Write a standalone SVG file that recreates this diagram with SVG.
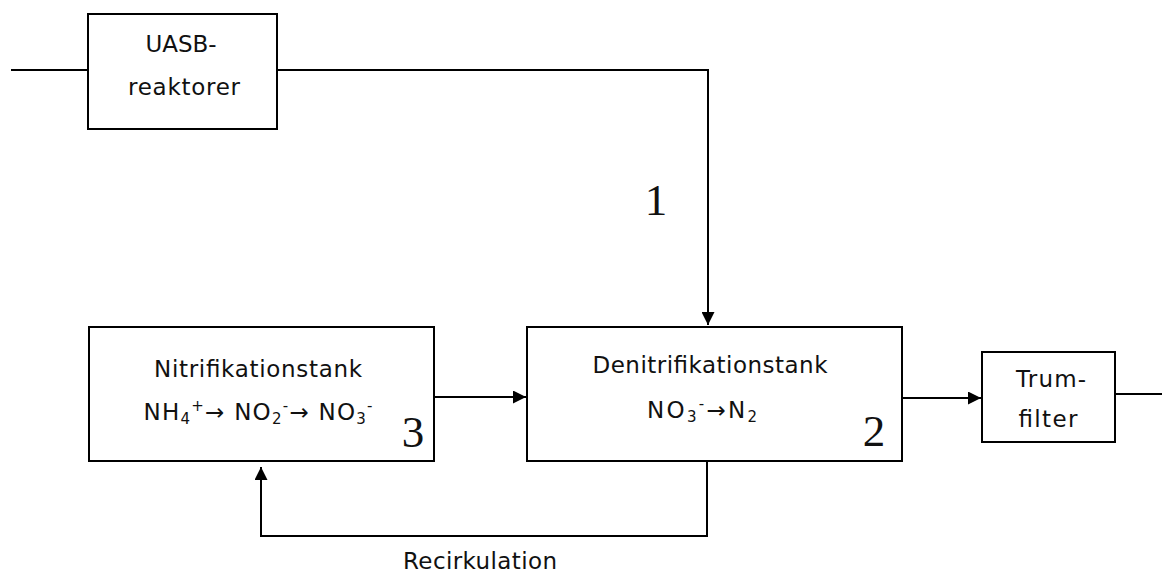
<svg xmlns="http://www.w3.org/2000/svg" width="1162" height="575" viewBox="0 0 1162 575">
<style>
.box{fill:#fff;stroke:#000;stroke-width:2}
.ln{fill:none;stroke:#000;stroke-width:2}
.t{font-family:"DejaVu Sans",Verdana,sans-serif;font-size:23px;fill:#111;text-anchor:middle}
.n{font-family:"Liberation Serif","Times New Roman",serif;font-size:45px;fill:#111;text-anchor:middle}
.s{font-size:15px}
</style>
<defs>
<marker id="ah" viewBox="0 0 10 10" refX="10" refY="5" markerWidth="13" markerHeight="13" markerUnits="userSpaceOnUse" orient="auto">
<path d="M0,0 L10,5 L0,10 z" fill="#000"/>
</marker>
</defs>
<g id="connectors">
<path class="ln" d="M11,70 H88"/>
<path class="ln" d="M277,70 H708 V325" marker-end="url(#ah)"/>
<path class="ln" d="M434,397 H526" marker-end="url(#ah)"/>
<path class="ln" d="M902,398 H981" marker-end="url(#ah)"/>
<path class="ln" d="M1115,394 H1162"/>
<path class="ln" d="M707,461 V536 H261 V467" marker-end="url(#ah)"/>
</g>
<g id="uasb">
<rect class="box" x="88" y="14" width="189" height="115"/>
<text class="t" x="181" y="52">UASB-</text>
<text class="t" x="184" y="95" textLength="112">reaktorer</text>
</g>
<g id="nitrifikation">
<rect class="box" x="89" y="327" width="345" height="134"/>
<text class="t" x="258" y="377" textLength="208">Nitrifikationstank</text>
<text class="t" x="258" y="420" textLength="229">NH<tspan class="s" dy="4">4</tspan><tspan class="s" dy="-13">+</tspan><tspan dy="9">→ NO</tspan><tspan class="s" dy="4">2</tspan><tspan class="s" dy="-13">-</tspan><tspan dy="9">→ NO</tspan><tspan class="s" dy="4">3</tspan><tspan class="s" dy="-13">-</tspan></text>
<text class="n" x="413" y="447">3</text>
</g>
<g id="denitrifikation">
<rect class="box" x="527" y="327" width="375" height="134"/>
<text class="t" x="710" y="373" textLength="235">Denitrifikationstank</text>
<text class="t" x="702" y="418" textLength="110">NO<tspan class="s" dy="4">3</tspan><tspan class="s" dy="-13">-</tspan><tspan dy="9">→N</tspan><tspan class="s" dy="4">2</tspan></text>
<text class="n" x="874" y="446">2</text>
</g>
<g id="trumfilter">
<rect class="box" x="982" y="352" width="133" height="90"/>
<text class="t" x="1051" y="387" textLength="70">Trum-</text>
<text class="t" x="1048" y="427" textLength="59">filter</text>
</g>
<g id="labels">
<text class="n" x="656" y="215">1</text>
<text class="t" x="480" y="569" textLength="154">Recirkulation</text>
</g>
</svg>
